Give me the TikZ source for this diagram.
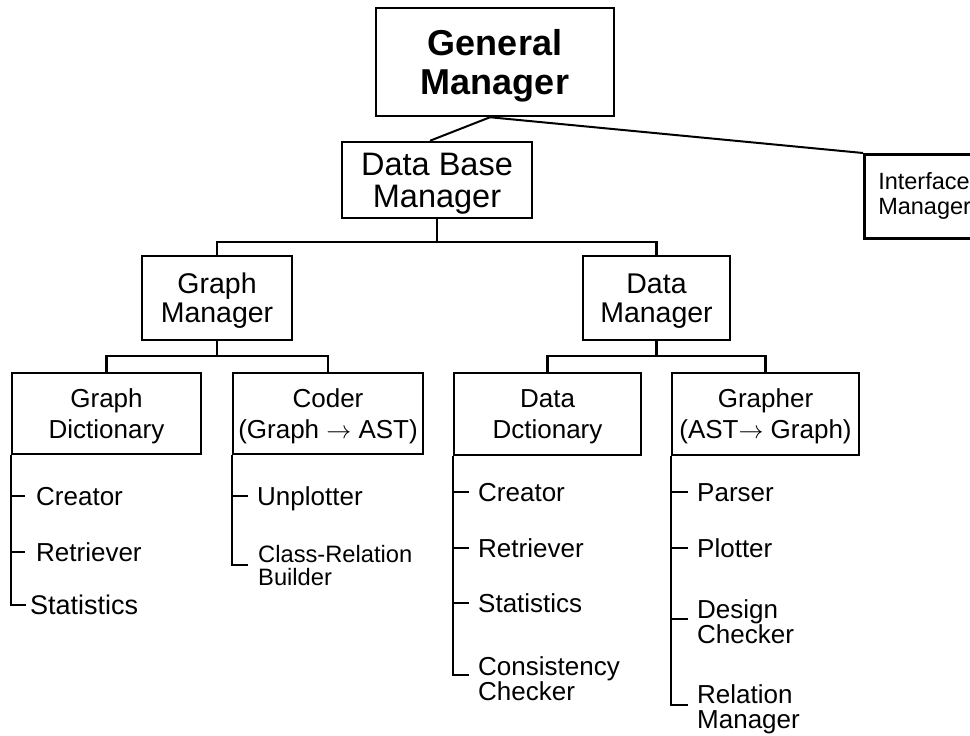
\documentclass[tikz,border=0pt]{standalone}
\usepackage{fontspec}
\setmainfont{Liberation Sans}
\begin{document}
\begin{tikzpicture}[x=1pt,y=-1pt,
  box/.style={draw, line width=2.5pt, inner sep=0pt, align=center, text depth=0pt},
  conn/.style={line width=2.2pt},
  thinconn/.style={line width=2pt},
  item/.style={inner sep=0pt, align=left, font=\fontsize{26}{25}\selectfont},
  lvthree/.style={box, font=\fontsize{26}{31}\selectfont},
  lvtwo/.style={box, minimum height=84pt, font=\fontsize{28.5}{29}\selectfont},
]
\useasboundingbox (0,0) rectangle (970,736);
\clip (0,0) rectangle (970,736);

% boxes
\node[box, minimum width=238pt, minimum height=108pt, font=\bfseries\fontsize{36}{39}\selectfont] (gm) at (495,62) {General\\Manager};
\node[box, minimum width=190pt, minimum height=76pt, text depth=-8.6pt, font=\fontsize{32.5}{32}\selectfont] (dbm) at (437,180) {Data Base\\Manager};
\node[draw, line width=2.5pt, anchor=north west, minimum width=125pt, minimum height=84pt, inner sep=0pt, align=left, font=\fontsize{23.5}{25}\selectfont] (im) at (863,153) {\hspace*{14pt}Interface\hspace*{30pt}\\\hspace*{14pt}Manager};
\node[lvtwo, minimum width=150pt] (grm) at (217,298) {Graph\\Manager};
\node[lvtwo, minimum width=147pt] (dm) at (656.5,298) {Data\\Manager};
\node[lvthree, minimum width=189pt, minimum height=81pt] (gd) at (106.5,413.5) {Graph\\Dictionary};
\node[lvthree, minimum width=190pt, minimum height=81pt] (cd) at (328,413.5) {Coder\\(Graph $\rightarrow$ AST)};
\node[lvthree, minimum width=187pt, minimum height=82pt] (dd) at (547.5,414) {Data\\Dctionary};
\node[lvthree, minimum width=187pt, minimum height=82pt] (gr) at (765.5,414) {Grapher\\(AST$\rightarrow$ Graph)};

% top connectors
\draw[thinconn] ([xshift=-5pt]gm.south) -- ([xshift=-7pt]dbm.north);
\draw[thinconn] ([xshift=-5pt]gm.south) -- (im.north west);

% level buses
\coordinate (busA) at (437,242);
\draw[conn] (dbm.south) -- (busA);
\draw[conn] (grm.north) |- (busA) -| (dm.north);
\coordinate (busB) at (217,356);
\draw[conn] (grm.south) -- (busB);
\draw[conn] (gd.north) |- (busB) -| (cd.north);
\coordinate (busC) at (656.5,356);
\draw[conn] (dm.south) -- (busC);
\draw[conn] (dd.north) |- (busC) -| (gr.north);

% Graph Dictionary items
\node[item, anchor=base west] (gdA) at (36,505) {Creator};
\node[item, anchor=base west] (gdB) at (36,561) {Retriever};
\node[item, anchor=base west, font=\fontsize{27}{27}\selectfont] (gdC) at (30,614) {Statistics};
\coordinate (gdtA) at (25,496);
\coordinate (gdtB) at (25,552);
\coordinate (gdtC) at (26,605);
\draw[conn] (gd.south west) |- (gdtC);
\draw[conn] (gd.south west |- gdtA) -- (gdtA);
\draw[conn] (gd.south west |- gdtB) -- (gdtB);

% Coder items
\node[item, anchor=base west] (cdA) at (257,505) {Unplotter};
\node[item, anchor=north west, font=\fontsize{23.7}{23}\selectfont] (cdB) at (258,545.5) {Class-Relation\\Builder};
\coordinate (cdtA) at (248,496);
\coordinate (cdtB) at (248,565);
\draw[conn] (cd.south west) |- (cdtB);
\draw[conn] (cd.south west |- cdtA) -- (cdtA);

% Data Dictionary items
\node[item, anchor=base west] (ddA) at (478,501) {Creator};
\node[item, anchor=base west] (ddB) at (478,557) {Retriever};
\node[item, anchor=base west] (ddC) at (478,612) {Statistics};
\node[item, anchor=north west] (ddD) at (478,656) {Consistency\\Checker};
\coordinate (ddtA) at (469,492);
\coordinate (ddtB) at (469,548);
\coordinate (ddtC) at (469,603);
\coordinate (ddtD) at (469,675);
\draw[conn] (dd.south west) |- (ddtD);
\draw[conn] (dd.south west |- ddtA) -- (ddtA);
\draw[conn] (dd.south west |- ddtB) -- (ddtB);
\draw[conn] (dd.south west |- ddtC) -- (ddtC);

% Grapher items
\node[item, anchor=base west] (grA) at (697,501) {Parser};
\node[item, anchor=base west] (grB) at (697,557) {Plotter};
\node[item, anchor=north west] (grC) at (697,599) {Design\\Checker};
\node[item, anchor=north west] (grD) at (697,684) {Relation\\Manager};
\coordinate (grtA) at (688,492);
\coordinate (grtB) at (688,548);
\coordinate (grtC) at (688,619);
\coordinate (grtD) at (688,705);
\draw[conn] (gr.south west) |- (grtD);
\draw[conn] (gr.south west |- grtA) -- (grtA);
\draw[conn] (gr.south west |- grtB) -- (grtB);
\draw[conn] (gr.south west |- grtC) -- (grtC);
\end{tikzpicture}
\end{document}
